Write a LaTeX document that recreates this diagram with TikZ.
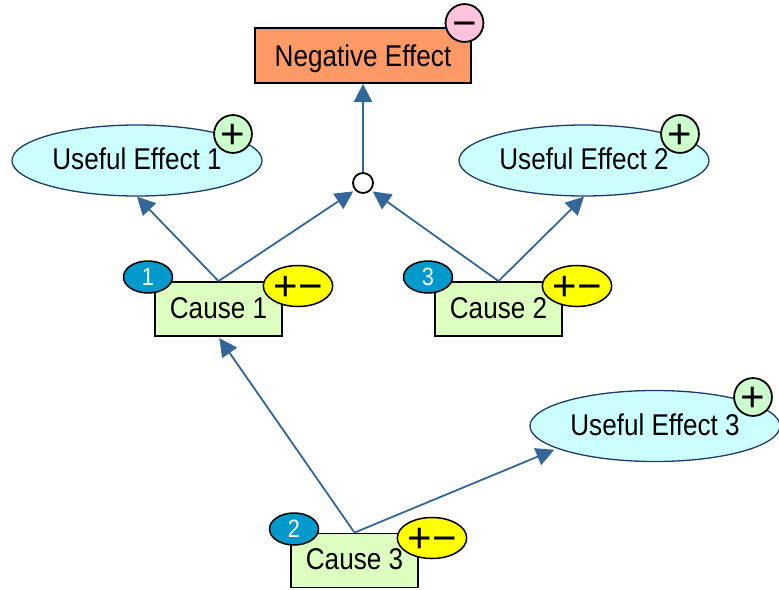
\documentclass[tikz,border=0pt]{standalone}
\usepackage{fontspec}
\setmainfont{Liberation Sans}[FakeStretch=0.87]
\newfontfamily\signglyphs{Liberation Sans}
\usetikzlibrary{arrows.meta,shapes.geometric}

\definecolor{negfill}{HTML}{FF9966}
\definecolor{usefill}{HTML}{CCFFFF}
\definecolor{useline}{HTML}{1F3A6B}
\definecolor{causefill}{HTML}{DDFFBF}
\definecolor{linkblue}{HTML}{336699}
\definecolor{plusfill}{HTML}{CCFFCC}
\definecolor{minusfill}{HTML}{FFC4DC}
\definecolor{numfill}{HTML}{0099CC}
\definecolor{mixfill}{HTML}{FFFF00}

\tikzset{
  labelfont/.style={font=\fontsize{30}{33}\selectfont},
  negbox/.style={rectangle, draw=black, line width=1.8pt, fill=negfill,
    minimum width=216pt, minimum height=55pt, inner sep=0pt, text depth=0pt, labelfont},
  usebox/.style={ellipse, draw=useline, line width=1.3pt, fill=usefill,
    minimum width=250pt, minimum height=71pt, inner sep=0pt, text depth=3pt, labelfont},
  causebox/.style={rectangle, draw=black, line width=1.8pt, fill=causefill,
    minimum width=127pt, minimum height=54pt, inner sep=0pt, text depth=2pt, labelfont},
  junction/.style={circle, draw=black, line width=1.8pt, fill=white,
    minimum size=20pt, inner sep=0pt},
  link/.style={draw=linkblue, line width=1.8pt,
    -{Triangle[length=18pt,width=18pt]}},
  % the + and - bars sit about 14.5pt above the baseline at this size:
  % a 29pt tall text box centres them in their badge
  signfont/.style={font=\signglyphs\fontsize{42}{42}\selectfont,
    text height=29pt, text depth=0pt},
  plusbadge/.style={circle, draw=black, line width=1.8pt, fill=plusfill,
    minimum size=37pt, inner sep=0pt, signfont},
  minusbadge/.style={circle, draw=black, line width=1.8pt, fill=minusfill,
    minimum size=36pt, inner sep=0pt, signfont},
  numbadge/.style={ellipse, draw=black, line width=1.5pt, fill=numfill,
    minimum width=49pt, minimum height=32pt, inner sep=0pt, text=white,
    font=\fontsize{25}{25}\selectfont},
  mixbadge/.style={ellipse, draw=black, line width=1.5pt, fill=mixfill,
    minimum width=66pt, minimum height=30pt, inner sep=0pt, signfont},
}

\begin{document}
\begin{tikzpicture}[x=1pt,y=-1pt]
  \useasboundingbox (0,0) rectangle (779,589);

  % main nodes
  \node[negbox]   (neg) at (363,55.5) {Negative Effect};
  \node[usebox]   (ue1) at (137,160.5) {Useful Effect 1};
  \node[usebox]   (ue2) at (584,160.5) {Useful Effect 2};
  \node[usebox]   (ue3) at (655,426) {Useful Effect 3};
  \node[junction] (jn)  at (363,183) {};
  \node[causebox] (c1)  at (218.5,309) {Cause 1};
  \node[causebox] (c2)  at (498.5,309) {Cause 2};
  \node[causebox] (c3)  at (354.5,560.5) {Cause 3};

  % connectors
  \draw[link] (jn.north) -- (neg.south);
  \draw[link] (c1.north) -- (ue1.south);
  \draw[link, shorten >=2pt] (c1.north) -- (jn.222);
  \draw[link, shorten >=2pt] (c2.north) -- (jn.318);
  \draw[link] (c2.north) -- (ue2.south);
  \draw[link, shorten >=1.5pt] (c3.north) -- (c1.south);
  \draw[link, shorten >=3pt] (c3.north) -- (ue3.193);

  % sign badges
  \node[minusbadge] (negsign) at (464.5,23) {−};
  \node[plusbadge]  (ue1sign) at (233,134) {+};
  \node[plusbadge]  (ue2sign) at (680,134) {+};
  \node[plusbadge]  (ue3sign) at (753,397) {+};

  % step numbers
  \node[numbadge] (c1num) at (148,277) {1};
  \node[numbadge] (c2num) at (428,277) {3};
  \node[numbadge] (c3num) at (294,529) {2};

  % mixed-effect badges
  \node[mixbadge] (c1mix) at (298,286) {+−};
  \node[mixbadge] (c2mix) at (577,286) {+−};
  \node[mixbadge] (c3mix) at (432,538) {+−};
\end{tikzpicture}
\end{document}
